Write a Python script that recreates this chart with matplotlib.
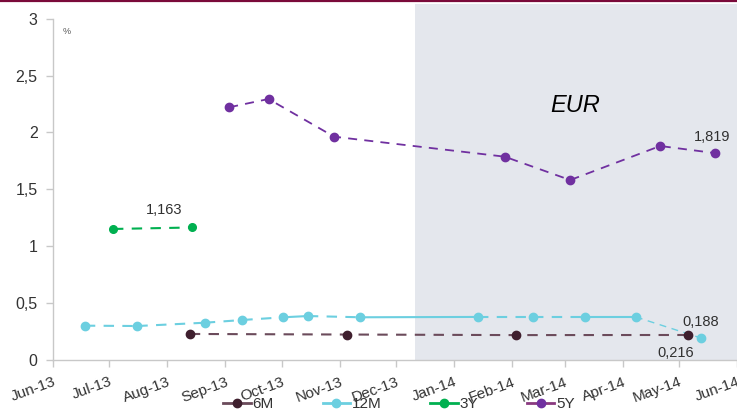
import matplotlib
matplotlib.use("Agg")
import matplotlib.pyplot as plt
from matplotlib.lines import Line2D
from datetime import datetime as dt

plt.rcParams["font.family"] = ["Liberation Sans", "DejaVu Sans"]

# ---- data ----
m6_dates = ["2013-08-13", "2013-11-05", "2014-02-03", "2014-05-06"]
m6_vals = [0.225, 0.220, 0.215, 0.216]

m12_dates = ["2013-06-18", "2013-07-16", "2013-08-21", "2013-09-10", "2013-10-02",
             "2013-10-15", "2013-11-12", "2014-01-14", "2014-02-12", "2014-03-12",
             "2014-04-08", "2014-05-13"]
m12_vals = [0.298, 0.295, 0.324, 0.348, 0.372, 0.383, 0.372, 0.375, 0.375, 0.375,
            0.375, 0.188]
m12_segment_styles = ["--", "--", "--", "--", "-", "--", "-", "--", "--", "-", "--"]

y3_dates = ["2013-07-03", "2013-08-14"]
y3_vals = [1.150, 1.163]

y5_dates = ["2013-09-03", "2013-09-24", "2013-10-29", "2014-01-28", "2014-03-04",
            "2014-04-21", "2014-05-20"]
y5_vals = [2.222, 2.295, 1.963, 1.787, 1.581, 1.881, 1.819]

tick_months = ["2013-06-01", "2013-07-01", "2013-08-01", "2013-09-01", "2013-10-01",
               "2013-11-01", "2013-12-01", "2014-01-01", "2014-02-01", "2014-03-01",
               "2014-04-01", "2014-05-01", "2014-06-01"]
tick_labels = ["Jun-13", "Jul-13", "Aug-13", "Sep-13", "Oct-13", "Nov-13", "Dec-13",
               "Jan-14", "Feb-14", "Mar-14", "Apr-14", "May-14", "Jun-14"]
y_ticks = [0, 0.5, 1, 1.5, 2, 2.5, 3]
y_tick_labels = ["0", "0,5", "1", "1,5", "2", "2,5", "3"]

shade_start = "2013-12-11"

def D(s):
    return dt.strptime(s, "%Y-%m-%d")

C6 = "#3f1f2e"
C6L = "#6b4b5b"
C12 = "#6ccfe0"
C3 = "#00b050"
C5 = "#7030a0"

fig = plt.figure(figsize=(7.37, 4.12), dpi=100)
W, H = 737, 412
ax = fig.add_axes([53 / W, (H - 359.5) / H, (737 - 53) / W, (359.5 - 4) / H])

x0, x1 = D(tick_months[0]), D(tick_months[-1])
ax.set_xlim(x0, x1)
ax.set_ylim(0, 3.132)

ax.axvspan(D(shade_start), x1, color="#e4e7ed", zorder=0, lw=0)

# 6M
ax.plot([D(d) for d in m6_dates], m6_vals, ls=(0, (5, 4)), color=C6L, lw=1.5, zorder=2)
ax.plot([D(d) for d in m6_dates], m6_vals, ls="none", marker="o", ms=6, color=C6, zorder=3)

# 12M segments
d12 = [D(d) for d in m12_dates]
for i, st in enumerate(m12_segment_styles):
    lw = 1.5 if i < len(m12_segment_styles) - 1 else 1.0
    ls = "-" if st == "-" else (0, (5, 4))
    ax.plot(d12[i:i + 2], m12_vals[i:i + 2], ls=ls, color=C12, lw=lw, zorder=2)
ax.plot(d12, m12_vals, ls="none", marker="o", ms=6, color=C12, zorder=3)

# 3Y
ax.plot([D(d) for d in y3_dates], y3_vals, ls=(0, (5, 4)), color=C3, lw=1.5,
        marker="o", ms=5.5, zorder=3)

# 5Y
ax.plot([D(d) for d in y5_dates], y5_vals, ls=(0, (5, 4)), color=C5, lw=1.3,
        marker="o", ms=6, zorder=3)

# annotations
tc = "#303030"
ax.annotate("1,163", (D(y3_dates[-1]), y3_vals[-1]), xytext=(-33, 10),
            textcoords="offset points", fontsize=10.5, color=tc)
ax.annotate("1,819", (D(y5_dates[-1]), y5_vals[-1]), xytext=(-15, 9),
            textcoords="offset points", fontsize=10.5, color=tc)
ax.annotate("0,188", (D(m12_dates[-1]), m12_vals[-1]), xytext=(-14, 9),
            textcoords="offset points", fontsize=10.5, color=tc)
ax.annotate("0,216", (D(m6_dates[-1]), m6_vals[-1]), xytext=(-22, -16),
            textcoords="offset points", fontsize=10.5, color=tc)

fig.text(575 / W, 1 - 105 / H, "EUR", fontsize=17, style="italic",
         ha="center", va="center", color="black")
fig.text(63 / W, 1 - 31 / H, "%", fontsize=6.5, color="#555555", va="center")

# axes style
for s in ["top", "right"]:
    ax.spines[s].set_visible(False)
for s in ["left", "bottom"]:
    ax.spines[s].set_color("#c8c8c8")
    ax.spines[s].set_linewidth(1.0)
ax.spines["left"].set_bounds(0, 3)

ax.set_yticks(y_ticks)
ax.set_yticklabels(y_tick_labels)
ax.set_xticks([D(d) for d in tick_months])
ax.set_xticklabels(tick_labels, rotation=20, ha="right", rotation_mode="anchor")
ax.tick_params(axis="both", colors="#c8c8c8", length=5, width=1, labelsize=11.5,
               labelcolor="#333333")
ax.tick_params(axis="x", labelsize=11)
ax.tick_params(axis="y", pad=6)
ax.tick_params(axis="x", pad=6)

# top border
fig.add_artist(Line2D([0, 1], [1 - 1 / H, 1 - 1 / H], color="#7a0a3a", lw=1.6,
                      transform=fig.transFigure))

# legend
handles = [
    Line2D([], [], color=C6L, marker="o", mfc=C6, mec=C6, ms=6, lw=2),
    Line2D([], [], color=C12, marker="o", ms=6, lw=2),
    Line2D([], [], color=C3, marker="o", ms=6, lw=2),
    Line2D([], [], color="#8a3a80", marker="o", mfc=C5, mec=C5, ms=6, lw=2),
]
fig.legend(handles, ["6M", "12M", "3Y", "5Y"], loc="center", ncol=4,
           bbox_to_anchor=(399 / W, 1 - 404.5 / H), frameon=False, fontsize=11,
           handlelength=1.8, handletextpad=0.1, columnspacing=3.2,
           labelcolor="#333333", borderpad=0.1)

fig.savefig("out.png", dpi=100)
